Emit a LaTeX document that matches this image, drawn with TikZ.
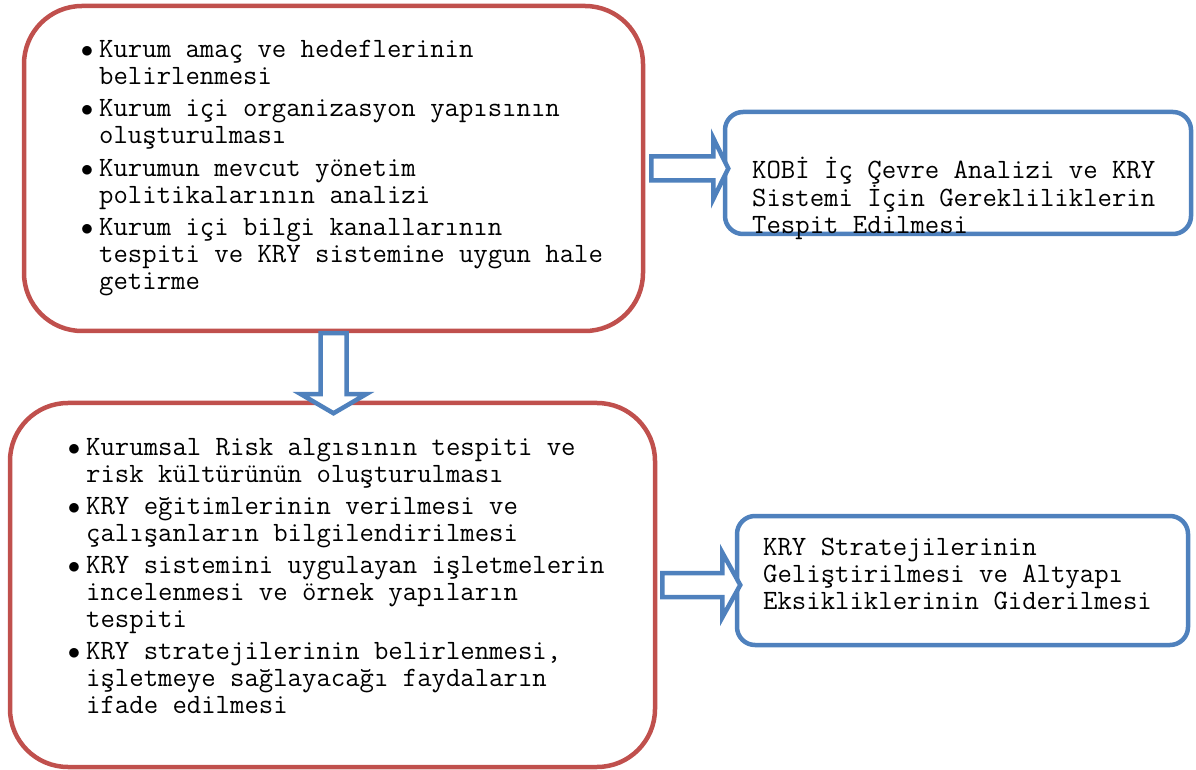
\documentclass[tikz,border=0pt]{standalone}
\usepackage{fontspec}
\usetikzlibrary{positioning}

\definecolor{kirmizi}{HTML}{C0504D}
\definecolor{mavi}{HTML}{4F81BD}
\newcommand{\madde}{\llap{$\bullet$\kern6pt}}
\newcommand{\ust}{\rule{0pt}{20pt}}

\begin{document}
\begin{tikzpicture}[x=1pt,y=1pt]
    \tikzset{redbox/.style={draw=kirmizi, line width=4.5pt, rounded corners=58pt, inner sep=0pt},
             bluebox/.style={draw=mavi, line width=4.5pt, rounded corners=18pt, inner sep=0pt},
             blockarr/.style={draw=mavi, line width=4.5pt, fill=white, line join=miter},
             metin/.style={anchor=north west, align=left, inner sep=0pt,
                           font=\fontsize{27.95}{27}\selectfont\ttfamily}}
    \useasboundingbox (0,0) rectangle (1196,769);
    % kutular
    \node[redbox, minimum width=619pt, minimum height=325pt] (hazirlik) at (333.5,600.5) {};
    \node[bluebox, minimum width=466pt, minimum height=122pt] (analiz) at (958,596) {};
    \node[redbox, minimum width=645pt, minimum height=364pt] (uygulama) at (332.5,184) {};
    \node[bluebox, minimum width=451pt, minimum height=129pt] (strateji) at (962.5,188.5) {};
    % metinler
    \node[metin] (hazirlikmetin) at (99,732) {\ust\madde Kurum amaç ve hedeflerinin\\
        belirlenmesi\\[5.5pt]
        \madde Kurum içi organizasyon yapısının\\
        oluşturulması\\[5.5pt]
        \madde Kurumun mevcut yönetim\\
        politikalarının analizi\\[5.5pt]
        \madde Kurum içi bilgi kanallarının\\
        tespiti ve KRY sistemine uygun hale\\
        getirme};
    \node[metin] (analizmetin) at (752,612) {\ust KOBİ İç Çevre Analizi ve KRY\\
        Sistemi İçin Gerekliliklerin\\
        Tespit Edilmesi};
    \node[metin] (uygulamametin) at (86,334) {\ust\madde Kurumsal Risk algısının tespiti ve\\
        risk kültürünün oluşturulması\\[5pt]
        \madde KRY eğitimlerinin verilmesi ve\\
        çalışanların bilgilendirilmesi\\[5pt]
        \madde KRY sistemini uygulayan işletmelerin\\
        incelenmesi ve örnek yapıların\\
        tespiti\\[5pt]
        \madde KRY stratejilerinin belirlenmesi,\\
        işletmeye sağlayacağı faydaların\\
        ifade edilmesi};
    \node[metin] (stratejimetin) at (763,234) {\ust KRY Stratejilerinin\\
        Geliştirilmesi ve Altyapı\\
        Eksikliklerinin Giderilmesi};
    % oklar
    \draw[blockarr] ([xshift=6pt,yshift=12pt]hazirlik.east) -- ++(62,0) -- ++(0,18.5)
        -- ++(15,-30.5) -- ++(-15,-30.5) -- ++(0,18.5) -- ++(-62,0) -- cycle;
    \draw[blockarr] ([xshift=-13pt]hazirlik.south) -- ++(0,-61) -- ++(-19.5,0)
        -- ++(32.5,-19) -- ++(32.5,19) -- ++(-19.5,0) -- ++(0,61) -- cycle;
    \draw[blockarr] ([xshift=5pt,yshift=12pt]uygulama.east) -- ++(60,0) -- ++(0,20.5)
        -- ++(18,-32.5) -- ++(-18,-32.5) -- ++(0,20.5) -- ++(-60,0) -- cycle;
\end{tikzpicture}
\end{document}
